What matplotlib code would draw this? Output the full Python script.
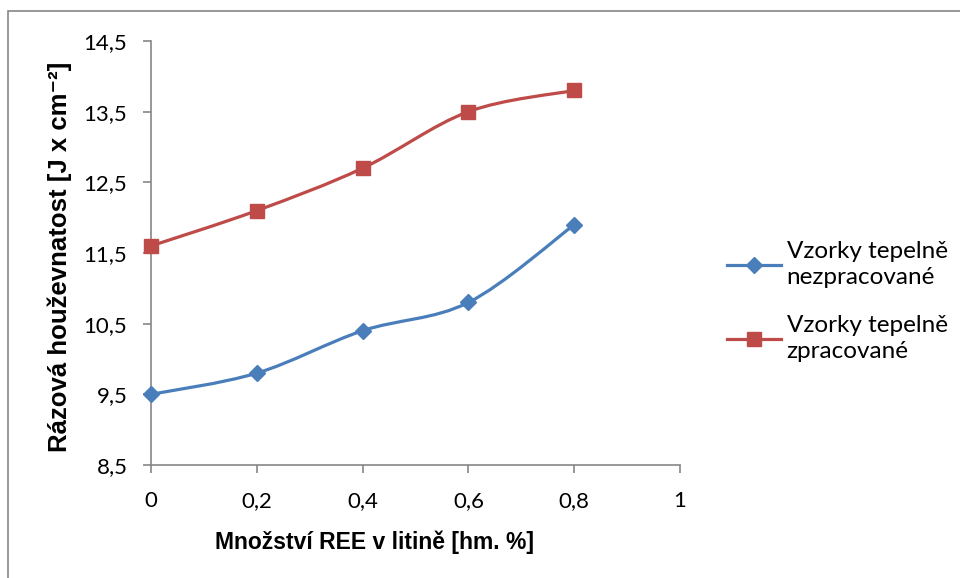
import numpy as np
import matplotlib.pyplot as plt
from matplotlib.path import Path
from matplotlib.patches import PathPatch, Rectangle
from matplotlib.ticker import FuncFormatter

# Data
ree = [0, 0.2, 0.4, 0.6, 0.8]
nezpracovane = [9.5, 9.8, 10.4, 10.8, 11.9]
zpracovane = [11.6, 12.1, 12.7, 13.5, 13.8]
labels = ['Vzorky tepelně\nnezpracované', 'Vzorky tepelně\nzpracované']

BLUE = '#4A7EBB'
RED = '#BE4B48'
GRAY = '#868686'
BOLD = ['Liberation Sans', 'DejaVu Sans']


def smooth_path(x, y):
    # Catmull-Rom style cubic Bezier through the points (like Excel smoothed lines)
    x = np.asarray(x, float)
    y = np.asarray(y, float)
    n = len(x)
    verts = [(x[0], y[0])]
    codes = [Path.MOVETO]
    for i in range(n - 1):
        p0 = (x[max(i - 1, 0)], y[max(i - 1, 0)])
        p1 = (x[i], y[i])
        p2 = (x[i + 1], y[i + 1])
        p3 = (x[min(i + 2, n - 1)], y[min(i + 2, n - 1)])
        c1 = (p1[0] + (p2[0] - p0[0]) / 6, p1[1] + (p2[1] - p0[1]) / 6)
        c2 = (p2[0] - (p3[0] - p1[0]) / 6, p2[1] - (p3[1] - p1[1]) / 6)
        verts += [c1, c2, p2]
        codes += [Path.CURVE4] * 3
    return Path(verts, codes)


plt.rcParams['font.family'] = ['Lato', 'DejaVu Sans']

fig = plt.figure(figsize=(9.6, 5.78), dpi=100)
ax = fig.add_axes([151 / 960, 1 - 465 / 578, 529 / 960, 424 / 578])

for ys, color, marker, ms, lab in [(nezpracovane, BLUE, 'D', 8, labels[0]),
                                    (zpracovane, RED, 's', 10, labels[1])]:
    ax.add_patch(PathPatch(smooth_path(ree, ys), facecolor='none',
                           edgecolor=color, lw=2.3, zorder=3, clip_on=False))
    ax.plot(ree, ys, lw=0, color=color, marker=marker,
            markersize=ms, zorder=4, clip_on=False)
    # legend handle
    ax.plot([], [], color=color, lw=2.3, marker=marker, markersize=ms, label=lab)

ax.set_xlim(0, 1)
ax.set_ylim(8.5, 14.5)
ax.set_xticks(np.arange(0, 1.01, 0.2))
ax.set_yticks(np.arange(8.5, 14.51, 1.0))

comma = FuncFormatter(lambda v, p: ('%g' % round(v, 2)).replace('.', ','))
ax.xaxis.set_major_formatter(comma)
ax.yaxis.set_major_formatter(comma)

for side in ['top', 'right']:
    ax.spines[side].set_visible(False)
for side in ['left', 'bottom']:
    ax.spines[side].set_color(GRAY)
    ax.spines[side].set_linewidth(1.2)
ax.tick_params(axis='both', direction='out', length=6, width=1.2, color=GRAY,
               labelsize=16, labelcolor='black')
ax.tick_params(axis='y', pad=11)
ax.tick_params(axis='x', pad=13)

ax.set_xlabel('Množství REE v litině [hm. %]', fontsize=16.5, fontweight='bold',
              family=BOLD)
ax.xaxis.set_label_coords(0.423, -0.155)
ax.set_ylabel('Rázová houževnatost [J x cm⁻²]', fontsize=18.5,
              fontweight='bold', family=BOLD)
ax.yaxis.set_label_coords(-0.150, 0.49)

leg = ax.legend(loc='center left', bbox_to_anchor=(1.089, 0.385), frameon=False,
                fontsize=17.5, handlelength=2.2, labelspacing=1.1,
                handletextpad=0.25, borderaxespad=0, borderpad=0)
for t in leg.get_texts():
    t.set_linespacing(1.3)

# chart area border
fig.patches.append(Rectangle((8 / 960, -0.05), 1.2, 1 - 11 / 578 + 0.05,
                             transform=fig.transFigure, fill=False,
                             edgecolor=GRAY, lw=1.2))

fig.savefig('out.png', dpi=100)
